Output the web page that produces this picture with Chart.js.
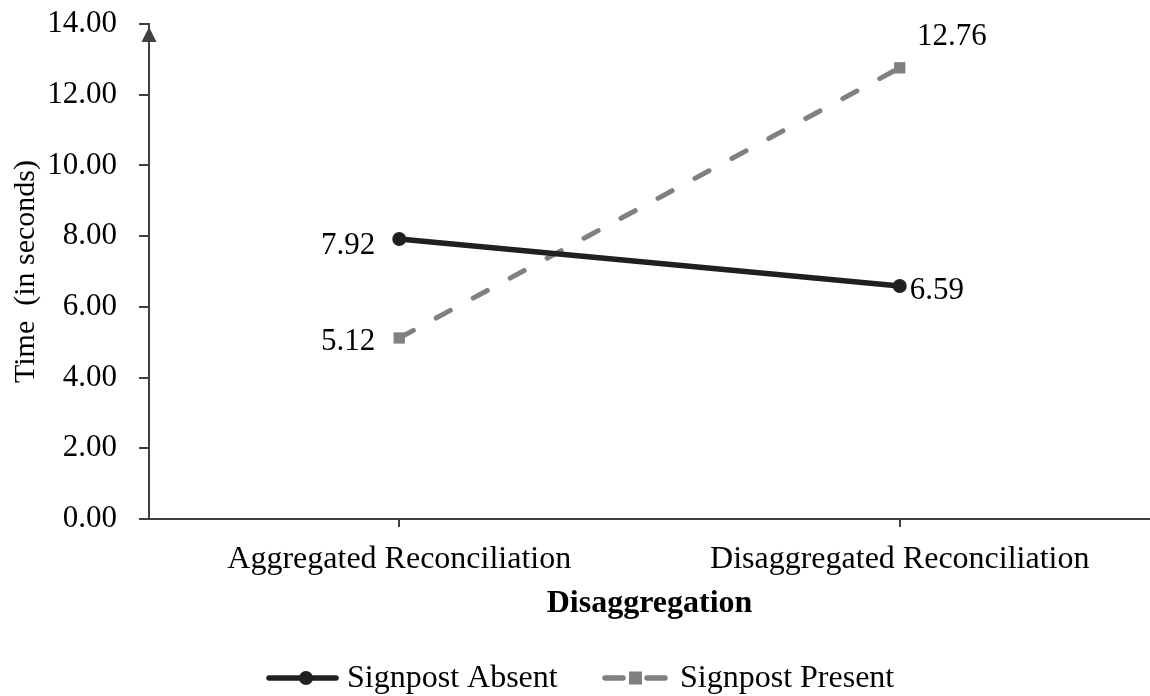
<!DOCTYPE html>
<html>
<head>
<meta charset="utf-8">
<script src="https://cdn.jsdelivr.net/npm/chart.js@4.4.1/dist/chart.umd.min.js"></script>
<style>
  html, body { margin: 0; padding: 0; background: #fff; overflow: hidden; }
  canvas { display: block; }
</style>
</head>
<body>
<canvas id="chart" width="1150" height="696"></canvas>
<script>
// datos
const categories = ['Aggregated Reconciliation', 'Disaggregated Reconciliation'];
const signpostAbsent = [7.92, 6.59];
const signpostPresent = [5.12, 12.76];
const yTicks = [0, 2, 4, 6, 8, 10, 12, 14];

const FONT = '"Liberation Serif", "Times New Roman", serif';
const BLACK = '#231f20';
const GREY = '#808080';
const AXIS = '#404040';

// donde va cada etiqueta de valor respecto a su punto
const labelPos = [
  [{ dx: -24, dy: 7, align: 'right' }, { dx: 10, dy: 5, align: 'left' }],
  [{ dx: -24, dy: 4, align: 'right' }, { dx: 52, dy: -31, align: 'center' }]
];

const valueLabels = {
  id: 'valueLabels',
  afterDatasetsDraw(chart) {
    const ctx = chart.ctx;
    ctx.save();
    ctx.font = '31px ' + FONT;
    ctx.fillStyle = '#000';
    ctx.textBaseline = 'middle';
    chart.data.datasets.forEach((ds, di) => {
      chart.getDatasetMeta(di).data.forEach((pt, i) => {
        const p = labelPos[di][i];
        ctx.textAlign = p.align;
        ctx.fillText(ds.data[i].toFixed(2), pt.x + p.dx, pt.y + p.dy);
      });
    });
    ctx.restore();
  }
};

// flecha arriba del eje y + leyenda
const extras = {
  id: 'extras',
  afterDraw(chart) {
    const ctx = chart.ctx;
    const x = chart.scales.y.right;
    const top = chart.chartArea.top;
    ctx.save();
    ctx.fillStyle = AXIS;
    ctx.beginPath();
    ctx.moveTo(x, top + 3);
    ctx.lineTo(x - 7.5, top + 18);
    ctx.lineTo(x + 7.5, top + 18);
    ctx.closePath();
    ctx.fill();

    // leyenda
    const ly = 678;
    ctx.lineCap = 'round';
    ctx.strokeStyle = BLACK;
    ctx.lineWidth = 5.5;
    ctx.beginPath(); ctx.moveTo(269, ly); ctx.lineTo(336, ly); ctx.stroke();
    ctx.fillStyle = BLACK;
    ctx.beginPath(); ctx.arc(306, ly, 7, 0, Math.PI * 2); ctx.fill();

    ctx.strokeStyle = GREY;
    ctx.beginPath(); ctx.moveTo(605, ly); ctx.lineTo(623, ly); ctx.stroke();
    ctx.beginPath(); ctx.moveTo(647, ly); ctx.lineTo(665, ly); ctx.stroke();
    ctx.fillStyle = GREY;
    ctx.fillRect(629, ly - 6.5, 13, 13);

    ctx.fillStyle = '#000';
    ctx.font = '32px ' + FONT;
    ctx.textBaseline = 'middle';
    ctx.textAlign = 'left';
    ctx.fillText('Signpost Absent', 347, ly + 1);
    ctx.fillText('Signpost Present', 680, ly + 1);
    ctx.restore();
  }
};

new Chart(document.getElementById('chart'), {
  type: 'line',
  data: {
    labels: categories,
    datasets: [
      {
        label: 'Signpost Absent',
        data: signpostAbsent,
        borderColor: BLACK,
        backgroundColor: BLACK,
        borderWidth: 5.5,
        pointStyle: 'circle',
        pointRadius: 7,
        pointBorderWidth: 0,
        tension: 0
      },
      {
        label: 'Signpost Present',
        data: signpostPresent,
        borderColor: GREY,
        backgroundColor: GREY,
        borderWidth: 5,
        borderDash: [16, 26],
        borderCapStyle: 'round',
        pointStyle: 'rect',
        pointRadius: 8,
        pointBorderWidth: 0,
        tension: 0
      }
    ]
  },
  options: {
    responsive: false,
    animation: false,
    devicePixelRatio: 1,
    layout: { autoPadding: false, padding: { left: 0, right: 0, top: 24, bottom: 73 } },
    plugins: {
      legend: { display: false },
      tooltip: { enabled: false }
    },
    scales: {
      x: {
        offset: true,
        grid: { display: true, drawOnChartArea: false, drawTicks: true, tickLength: 8, offset: false, color: AXIS, lineWidth: 2 },
        border: { display: true, color: AXIS, width: 2 },
        ticks: { color: '#000', padding: 13, maxRotation: 0, font: { family: FONT, size: 32 } },
        title: { display: true, text: 'Disaggregation', color: '#000', padding: 0, font: { family: FONT, size: 32, weight: 'bold' } },
        afterFit(scale) {
          scale.height = 104;
          scale.paddingLeft = 0; scale.paddingRight = 0;
        }
      },
      y: {
        min: 0,
        max: 14,
        afterBuildTicks(scale) { scale.ticks = yTicks.map(v => ({ value: v })); },
        grid: { display: true, drawOnChartArea: false, drawTicks: true, tickLength: 10, color: AXIS, lineWidth: 2 },
        border: { display: true, color: AXIS, width: 2 },
        ticks: { color: '#000', padding: 22, font: { family: FONT, size: 31 }, callback: v => Number(v).toFixed(2) },
        title: { display: true, text: 'Time  (in seconds)', color: '#000', padding: { top: 8, bottom: 0 }, font: { family: FONT, size: 30 } },
        afterFit(scale) {
          scale.width = 149;
          scale.paddingTop = 0; scale.paddingBottom = 0;
          scale.paddingLeft = 0; scale.paddingRight = 0;
        }
      }
    }
  },
  plugins: [valueLabels, extras]
});
</script>
</body>
</html>
